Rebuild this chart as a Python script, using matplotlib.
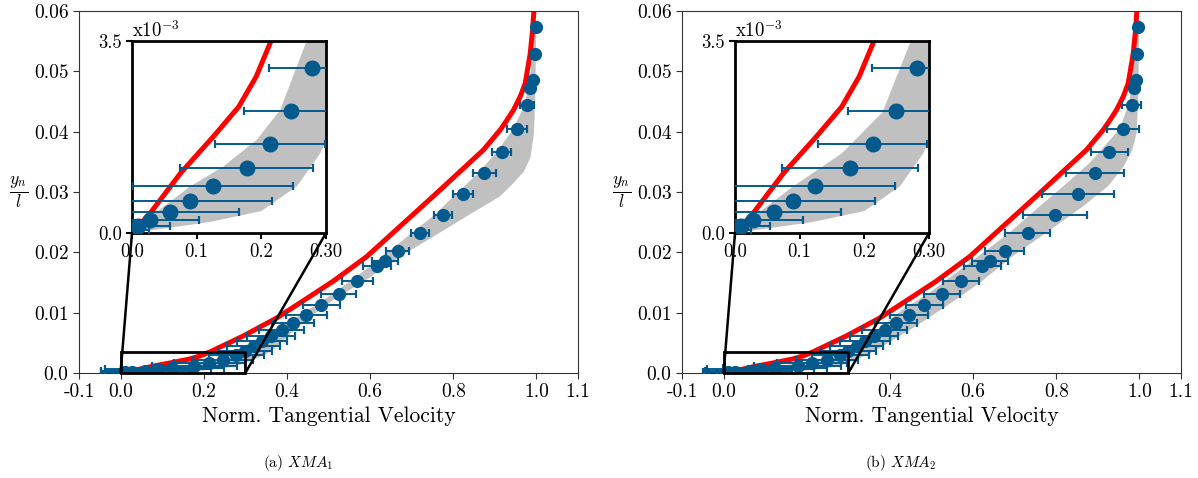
import matplotlib
matplotlib.use('Agg')
import matplotlib.pyplot as plt
from matplotlib.patches import Rectangle, ConnectionPatch
import numpy as np

plt.rcParams['font.family'] = 'serif'
plt.rcParams['font.serif'] = ['cmr10']
plt.rcParams['mathtext.fontset'] = 'cm'
plt.rcParams['axes.unicode_minus'] = False

# ---------------- data ----------------
# simulation (red line)
red_y = [0, 0.00006, 0.00036, 0.00109, 0.00176, 0.0023, 0.00285, 0.0035, 0.0061, 0.0091,
         0.0116, 0.0152, 0.0193, 0.0243, 0.0293, 0.0335, 0.037, 0.0403, 0.0419, 0.0436,
         0.0458, 0.048, 0.0529, 0.0563, 0.06]
red_u = [0, 0.005, 0.028, 0.075, 0.126, 0.165, 0.192, 0.215, 0.294, 0.375,
         0.431, 0.511, 0.592, 0.672, 0.752, 0.818, 0.873, 0.913, 0.929, 0.945,
         0.961, 0.973, 0.985, 0.990, 0.994]

# measurement points (common wall distances)
y_pts = [0.00006, 0.00013, 0.00024, 0.00039, 0.00059, 0.00085, 0.00119, 0.00163, 0.00223, 0.0030,
         0.0037, 0.0045, 0.0053, 0.0062, 0.0072, 0.0083, 0.0096, 0.0112, 0.0131, 0.0153,
         0.0177, 0.0186, 0.0203, 0.0232, 0.0262, 0.0296, 0.0331, 0.0367, 0.0405, 0.0445,
         0.0473, 0.0486, 0.0529, 0.0574]

u_xma1 = [0.005, 0.010, 0.028, 0.059, 0.090, 0.1245, 0.1776, 0.2136, 0.246, 0.278,
          0.300, 0.320, 0.340, 0.362, 0.387, 0.415, 0.447, 0.483, 0.525, 0.569,
          0.617, 0.636, 0.666, 0.720, 0.775, 0.824, 0.875, 0.917, 0.953, 0.977,
          0.985, 0.991, 0.996, 0.999]
err_xma1 = [0.021, 0.048, 0.076, 0.107, 0.127, 0.124, 0.103, 0.085, 0.073, 0.066,
            0.065, 0.063, 0.060, 0.057, 0.054, 0.050, 0.050, 0.045, 0.042, 0.037,
            0.033, 0.032, 0.027, 0.021, 0.022, 0.024, 0.027, 0.023, 0.024, 0.016,
            0.008, 0.006, 0.004, 0.003]

u_xma2 = [0.005, 0.010, 0.028, 0.060, 0.089, 0.123, 0.178, 0.213, 0.249, 0.281,
          0.300, 0.320, 0.340, 0.362, 0.387, 0.415, 0.445, 0.483, 0.525, 0.571,
          0.622, 0.641, 0.676, 0.731, 0.796, 0.852, 0.893, 0.928, 0.960, 0.981,
          0.988, 0.991, 0.995, 0.997]
err_xma2 = [0.020, 0.044, 0.077, 0.104, 0.128, 0.125, 0.105, 0.084, 0.075, 0.069,
            0.066, 0.064, 0.061, 0.058, 0.055, 0.050, 0.046, 0.045, 0.043, 0.043,
            0.044, 0.044, 0.047, 0.055, 0.077, 0.087, 0.069, 0.045, 0.038, 0.024,
            0.010, 0.006, 0.004, 0.003]

# grey uncertainty band, XMA1
band1_lo_y = [0, 0.0001, 0.0002, 0.0004, 0.00085, 0.00121, 0.0017, 0.00224, 0.0035, 0.0062,
              0.0095, 0.0131, 0.0177, 0.0232, 0.0262, 0.0296, 0.0331, 0.0367, 0.0405, 0.0445,
              0.05, 0.058]
band1_lo_u = [0, 0.008, 0.02, 0.04, 0.09, 0.141, 0.193, 0.229, 0.27, 0.345,
              0.43, 0.51, 0.60, 0.70, 0.755, 0.805, 0.86, 0.905, 0.945, 0.972,
              0.987, 0.995]
band1_hi_y = [0, 0.0001, 0.0002, 0.0004, 0.00085, 0.00145, 0.0022, 0.0035, 0.0066, 0.0088,
              0.0121, 0.0155, 0.0193, 0.0226, 0.026, 0.0293, 0.0315, 0.0334, 0.0358, 0.0397,
              0.045, 0.055, 0.058]
band1_hi_u = [0, 0.06, 0.12, 0.2, 0.255, 0.291, 0.32, 0.36, 0.41, 0.447,
              0.511, 0.592, 0.672, 0.752, 0.833, 0.913, 0.945, 0.970, 0.986, 0.994,
              0.997, 0.999, 1.0]

# grey uncertainty band, XMA2
band2_lo_y = [0, 0.0001, 0.0002, 0.0004, 0.00085, 0.00145, 0.0022, 0.0035, 0.0066, 0.0105,
              0.0133, 0.0166, 0.0199, 0.0232, 0.0271, 0.0309, 0.0348, 0.0405, 0.0452, 0.055,
              0.058]
band2_lo_u = [0, 0.008, 0.02, 0.04, 0.09, 0.165, 0.228, 0.272, 0.36, 0.43,
              0.495, 0.559, 0.623, 0.687, 0.751, 0.816, 0.88, 0.953, 0.977, 0.99,
              0.995]
band2_hi_y = [0, 0.0001, 0.0002, 0.0004, 0.00085, 0.00145, 0.0022, 0.0035, 0.0077, 0.011,
              0.0149, 0.0193, 0.0232, 0.0276, 0.031, 0.0342, 0.037, 0.0397, 0.045, 0.055,
              0.058]
band2_hi_u = [0, 0.06, 0.12, 0.2, 0.255, 0.291, 0.32, 0.36, 0.461, 0.534,
              0.615, 0.694, 0.775, 0.864, 0.925, 0.962, 0.983, 0.993, 0.997, 0.999,
              1.0]

main_xticks = [-0.1, 0.0, 0.2, 0.4, 0.6, 0.8, 1.0, 1.1]
main_xlabels = ['-0.1', '0.0', '0.2', '0.4', '0.6', '0.8', '1.0', '1.1']
main_yticks = [0.0, 0.01, 0.02, 0.03, 0.04, 0.05, 0.06]
main_ylabels = ['0.0', '0.01', '0.02', '0.03', '0.04', '0.05', '0.06']
ins_xticks = [0.0, 0.1, 0.2, 0.3]
ins_xlabels = ['0.0', '0.1', '0.2', '0.30']
ins_yticks = [0.0, 0.0035]
ins_ylabels = ['0.0', '3.5']
captions = ['(a) $XMA_1$', '(b) $XMA_2$']

BLUE = '#045a8d'
GREY = '#c0c0c0'

fig = plt.figure(figsize=(11.98, 4.78), dpi=100)

main_rects = [[79 / 1198, 1 - 373 / 478, 499 / 1198, 362 / 478],
              [682 / 1198, 1 - 373 / 478, 499 / 1198, 362 / 478]]
ins_rects = [[132 / 1198, 1 - 233 / 478, 194 / 1198, 192 / 478],
             [735 / 1198, 1 - 233 / 478, 194 / 1198, 192 / 478]]
cap_x = [298 / 1198, 901 / 1198]

datasets = [
    (u_xma1, err_xma1, band1_lo_u, band1_lo_y, band1_hi_u, band1_hi_y),
    (u_xma2, err_xma2, band2_lo_u, band2_lo_y, band2_hi_u, band2_hi_y),
]

for i, (u, err, lo_u, lo_y, hi_u, hi_y) in enumerate(datasets):
    ax = fig.add_axes(main_rects[i])
    axins = fig.add_axes(ins_rects[i])
    for a, ms in ((ax, 8.5), (axins, 10.5)):
        a.fill(np.r_[lo_u, hi_u[::-1]], np.r_[lo_y, hi_y[::-1]],
               color=GREY, lw=0, zorder=1)
        a.plot(red_u, red_y, color='red', lw=3.6, zorder=2,
               solid_joinstyle='round', solid_capstyle='butt')
        a.errorbar(u, y_pts, xerr=err, fmt='o', color=BLUE, ms=ms,
                   elinewidth=1.4, capsize=3, capthick=1.6, zorder=3)

    ax.set_xlim(-0.1, 1.1)
    ax.set_ylim(0, 0.06)
    ax.set_xticks(main_xticks)
    ax.set_xticklabels(main_xlabels)
    ax.set_yticks(main_yticks)
    ax.set_yticklabels(main_ylabels)
    ax.tick_params(labelsize=14, length=4, width=0.8, color='#333333')
    for s in ax.spines.values():
        s.set_linewidth(0.8)
        s.set_color('#333333')
    ax.set_xlabel('Norm. Tangential Velocity', fontsize=15.5, labelpad=4)
    ax.set_ylabel(r'$\frac{y_n}{l}$', fontsize=18, rotation=0, va='center', ha='right')
    ax.yaxis.set_label_coords(-0.102, 0.5)

    axins.set_xlim(0, 0.3)
    axins.set_ylim(0, 0.0035)
    axins.set_xticks(ins_xticks)
    axins.set_xticklabels(ins_xlabels)
    axins.set_yticks(ins_yticks)
    axins.set_yticklabels(ins_ylabels)
    axins.tick_params(labelsize=13.5, length=4, width=1.5, pad=3)
    for s in axins.spines.values():
        s.set_linewidth(2.0)
        s.set_color('black')
    axins.text(0.0, 1.0, r'x10$^{-3}$', transform=axins.transAxes,
               fontsize=13.5, ha='left', va='bottom')

    ax.add_patch(Rectangle((0, 0), 0.3, 0.0035, fill=False, lw=2.0,
                           edgecolor='black', zorder=5, clip_on=False))
    for xa, xb in ((0.0, 0.0), (0.3, 1.0)):
        con = ConnectionPatch(xyA=(xa, 0.0), coordsA=ax.transData,
                              xyB=(xb, 0.0), coordsB=axins.transAxes,
                              color='black', lw=1.8, zorder=6)
        fig.add_artist(con)

    fig.text(cap_x[i], 1 - 463 / 478, captions[i], ha='center', va='center', fontsize=11)

fig.savefig('out.png', dpi=100)
